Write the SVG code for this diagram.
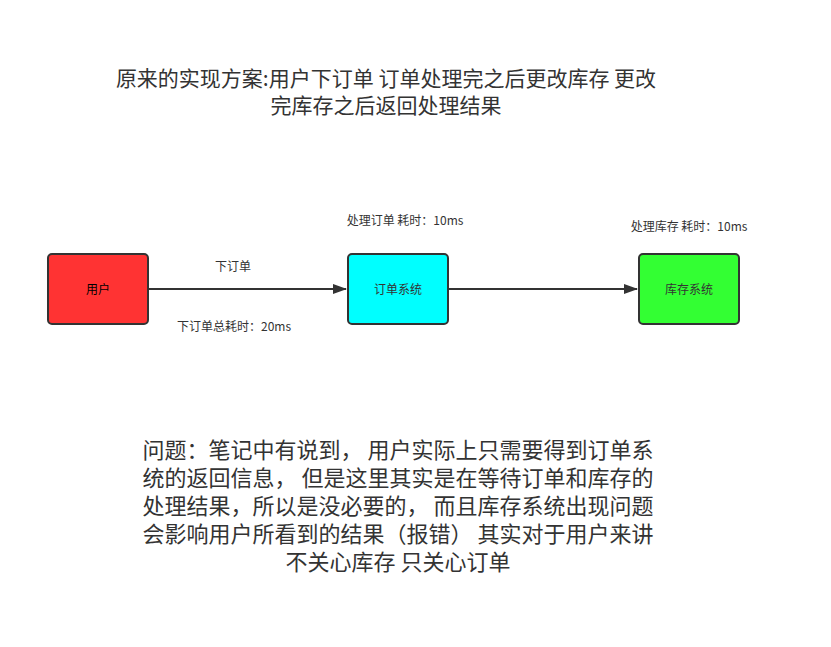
<svg xmlns="http://www.w3.org/2000/svg" width="831" height="647" viewBox="0 0 831 647">
<defs>
<style>
text{font-family:"Noto Sans CJK SC","Noto Sans",sans-serif;fill:#333;text-anchor:middle}
.node{stroke:#333;stroke-width:2}
.lbl{font-size:12px}
.t{font-size:21px}
.b{font-size:22px}
.edge{stroke:#333;stroke-width:2;fill:none}
</style>
<marker id="arr" markerWidth="14" markerHeight="10" refX="13" refY="5" orient="auto" markerUnits="userSpaceOnUse">
<path d="M0,0 L14,5 L0,10 Z" fill="#333"/>
</marker>
</defs>
<rect width="831" height="647" fill="#fff"/>
<g id="title">
<text class="t" x="386" y="86">原来的实现方案:用户下订单 订单处理完之后更改库存 更改</text>
<text class="t" x="386" y="113">完库存之后返回处理结果</text>
</g>
<g id="connectors">
<path class="edge" d="M148,289 L346,289" marker-end="url(#arr)"/>
<path class="edge" d="M448,289 L637,289" marker-end="url(#arr)"/>
<text class="lbl" x="233" y="271">下订单</text>
<text class="lbl" x="234" y="331">下订单总耗时：20ms</text>
</g>
<g id="user">
<rect class="node" x="48" y="254" width="100" height="70" rx="4" fill="#ff3333"/>
<text class="lbl" x="98" y="294" style="fill:#000">用户</text>
</g>
<g id="order">
<rect class="node" x="348" y="254" width="100" height="70" rx="4" fill="#00ffff"/>
<text class="lbl" x="398" y="294">订单系统</text>
<text class="lbl" x="405" y="225">处理订单 耗时：10ms</text>
</g>
<g id="stock">
<rect class="node" x="639" y="254" width="100" height="70" rx="4" fill="#33ff33"/>
<text class="lbl" x="689" y="294">库存系统</text>
<text class="lbl" x="689" y="231">处理库存 耗时：10ms</text>
</g>
<g id="note">
<text class="b" x="398" y="458">问题：笔记中有说到， 用户实际上只需要得到订单系</text>
<text class="b" x="398" y="486">统的返回信息， 但是这里其实是在等待订单和库存的</text>
<text class="b" x="398" y="514">处理结果，所以是没必要的， 而且库存系统出现问题</text>
<text class="b" x="398" y="542">会影响用户所看到的结果（报错） 其实对于用户来讲</text>
<text class="b" x="398" y="570">不关心库存 只关心订单</text>
</g>
</svg>
